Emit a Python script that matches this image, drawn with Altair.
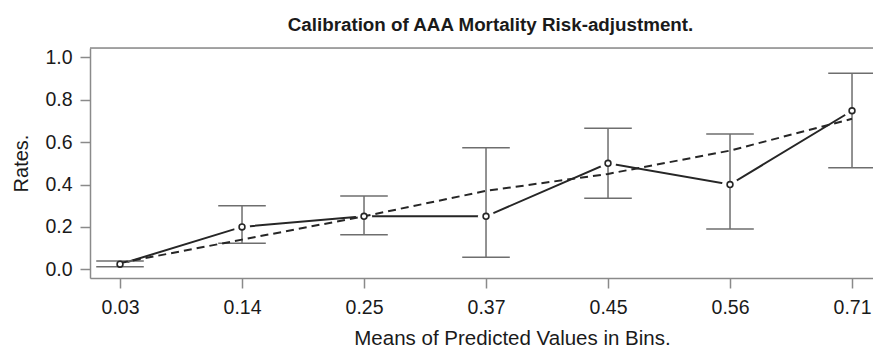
import json
import altair as alt
import pandas as pd

# Bins of the risk model: label (mean predicted value), observed rate and 95% interval
bins = ["0.03", "0.14", "0.25", "0.37", "0.45", "0.56", "0.71"]
predicted = [0.03, 0.14, 0.25, 0.37, 0.45, 0.56, 0.71]
observed = [0.024, 0.20, 0.25, 0.25, 0.50, 0.40, 0.748]
lower = [0.012, 0.123, 0.163, 0.057, 0.335, 0.19, 0.479]
upper = [0.039, 0.30, 0.346, 0.574, 0.665, 0.638, 0.925]

df = pd.DataFrame({
    "idx": list(range(len(bins))),
    "bin": bins,
    "predicted": predicted,
    "observed": observed,
    "lower": lower,
    "upper": upper,
})

FONT = "Liberation Sans"
DARK = "#262626"
GREY = "#6e6e6e"
FRAME = "#8a8a8a"
W, H = 783, 230

label_expr = json.dumps(bins) + "[datum.value]"

x = alt.X(
    "idx:Q",
    scale=alt.Scale(domain=[-0.246, 6.172], nice=False, zero=False),
    axis=alt.Axis(
        values=list(range(len(bins))),
        labelExpr=label_expr,
        title="Means of Predicted Values in Bins.",
        grid=False,
        domainColor=FRAME,
        domainWidth=1.5,
        tickColor=FRAME,
        tickWidth=1.5,
        tickSize=10,
        labelFont=FONT,
        labelFontSize=19.5,
        labelColor="#1a1a1a",
        labelPadding=10,
        titleFont=FONT,
        titleFontSize=20.5,
        titleFontWeight="normal",
        titleColor="#1a1a1a",
        titleX=422,
        titleY=66,
        titleBaseline="alphabetic",
        titleAlign="center",
    ),
)

y_axis = alt.Axis(
    values=[0, 0.2, 0.4, 0.6, 0.8, 1.0],
    format=".1f",
    title="Rates.",
    grid=False,
    domainColor=FRAME,
    domainWidth=1.5,
    tickColor=FRAME,
    tickWidth=1.5,
    tickSize=10,
    labelFont=FONT,
    labelFontSize=19.5,
    labelColor="#1a1a1a",
    labelPadding=8,
    titleFont=FONT,
    titleFontSize=20,
    titleFontWeight="normal",
    titleColor="#1a1a1a",
    titleAngle=-90,
    titleX=-63,
    titleY=H / 2,
    titleBaseline="alphabetic",
    titleAlign="center",
)
y_scale = alt.Scale(domain=[-0.041, 1.044], nice=False, zero=False)

base = alt.Chart(df)

observed_line = base.mark_line(color=DARK, strokeWidth=2).encode(
    x=x, y=alt.Y("observed:Q", scale=y_scale, axis=y_axis)
)

# white discs open the small gaps around each observed point
halo = base.mark_point(
    filled=True, color="white", opacity=1, size=260, shape="circle"
).encode(x="idx:Q", y="observed:Q")

whisker = base.mark_rule(color=GREY, strokeWidth=1.5).encode(
    x="idx:Q", y="lower:Q", y2="upper:Q"
)

caps = base.transform_calculate(
    xl="datum.idx - 0.195", xr="datum.idx + 0.195"
).transform_fold(["lower", "upper"], as_=["end", "val"])
cap_rules = caps.mark_rule(color=GREY, strokeWidth=1.5).encode(
    x="xl:Q", x2="xr:Q", y="val:Q"
)

predicted_line = base.mark_line(
    color=DARK, strokeWidth=2, strokeDash=[8, 5]
).encode(x="idx:Q", y="predicted:Q")

points = base.mark_point(
    shape="circle", size=34, filled=False, color=DARK, strokeWidth=1.6,
    fill="white", fillOpacity=1
).encode(x="idx:Q", y="observed:Q")

top_edge = alt.Chart(pd.DataFrame({"a": [0]})).mark_rule(
    color=FRAME, strokeWidth=1.5
).encode(x=alt.value(0), x2=alt.value(W), y=alt.value(0))

chart = (
    alt.layer(observed_line, halo, whisker, cap_rules, predicted_line, points, top_edge)
    .properties(
        width=W,
        height=H,
        autosize=alt.AutoSizeParams(type="none"),
        padding={"left": 90, "top": 48, "right": 0, "bottom": 70},
        title=alt.TitleParams(
            "Calibration of AAA Mortality Risk-adjustment.",
            font=FONT,
            fontSize=18.8,
            fontWeight="bold",
            color="#1a1a1a",
            anchor="middle",
            frame="group",
            dx=9,
            offset=-3,
            baseline="alphabetic",
        ),
    )
    .configure_view(stroke=None)
    .configure(background="white")
)

chart.save("out.html", embed_options={"renderer": "svg", "actions": False})
